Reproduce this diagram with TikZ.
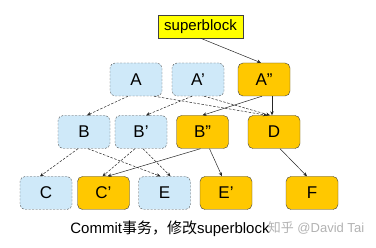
\documentclass[tikz,border=0pt]{standalone}
\usepackage{fontspec}
\setmainfont{Liberation Sans}
\newfontfamily\cjk{Noto Sans CJK SC}
\usetikzlibrary{arrows.meta}
\definecolor{lblue}{HTML}{CFE9F9}
\definecolor{gold}{HTML}{FFC800}
\definecolor{sbyel}{HTML}{FFFF00}
\definecolor{bordergray}{HTML}{555555}
\begin{document}
\begin{tikzpicture}[x=1pt,y=-1pt,
  oldbox/.style={draw=bordergray,dash pattern=on 2pt off 1.5pt,fill=lblue,rounded corners=5pt,minimum width=52pt,minimum height=33pt,inner sep=0pt,font=\fontsize{17}{19}\selectfont},
  newbox/.style={draw=black!75,fill=gold,rounded corners=5pt,minimum width=52pt,minimum height=33pt,inner sep=0pt,font=\fontsize{17}{19}\selectfont},
  sbbox/.style={draw=black!75,fill=sbyel,minimum width=85pt,minimum height=23pt,inner sep=0pt,font=\fontsize{15}{17}\selectfont},
  solidedge/.style={draw=black!85,-{Stealth[length=4pt,width=3.5pt]},line width=0.5pt},
  dashedge/.style={draw=black!85,dash pattern=on 2.5pt off 1.5pt,-{Stealth[length=4pt,width=3.5pt]},line width=0.5pt}]
\useasboundingbox (0,0) rectangle (376,248);
\node[sbbox] (sb) at (200.5,26.5) {superblock};
\node[oldbox] (A) at (136,79.5) {A};
\node[oldbox] (A1) at (198,79.5) {A'};
\node[newbox] (A2) at (264,79.5) {A''};
\node[oldbox] (B) at (84,132) {B};
\node[oldbox] (B1) at (141,132) {B'};
\node[newbox] (B2) at (202.5,132) {B''};
\node[newbox] (D) at (274,132) {D};
\node[oldbox] (C) at (46,193) {C};
\node[newbox] (C1) at (103.5,193) {C'};
\node[oldbox] (E) at (164.5,193) {E};
\node[newbox] (E1) at (226,193) {E'};
\node[newbox] (F) at (312,193) {F};
\node[font=\fontsize{15}{17}\selectfont] (cap) at (170,229) {Commit{\cjk 事务，修改}superblock};
\node[font=\fontsize{13}{15}\selectfont,text=black!30] (wm) at (316,228) {{\cjk 知乎} @David Tai};
% solid connectors
\draw[solidedge] (sb.south) -- ([xshift=-3pt]A2.north);
\draw[solidedge] ([xshift=-2pt]A2.south) -- (B2.north);
\draw[solidedge] ([xshift=8pt]A2.south) -- ([xshift=-2pt]D.north);
\draw[solidedge] ([xshift=-2pt]B2.south) -- ([xshift=4pt]C1.north);
\draw[solidedge] ([xshift=7pt]B2.south) -- ([xshift=-4pt]E1.north);
\draw[solidedge] ([xshift=6pt]D.south) -- ([xshift=-5pt]F.north);
% dashed connectors
\draw[dashedge] ([xshift=-8pt]A.south) -- ([xshift=3pt]B.north);
\draw[dashedge] ([xshift=18pt]A.south) -- ([xshift=-7pt]D.north);
\draw[dashedge] ([xshift=-6pt]A1.south) -- ([xshift=5pt]B1.north);
\draw[dashedge] ([xshift=6pt]A1.south) -- ([xshift=-4pt]D.north);
\draw[dashedge] ([xshift=-6pt]B.south) -- ([xshift=-6pt]C.north);
\draw[dashedge] ([xshift=4pt]B.south) -- ([xshift=-4pt]E.north);
\draw[dashedge] ([xshift=-6pt]B1.south) -- ([xshift=-1pt]C1.north);
\draw[dashedge] ([xshift=2pt]B1.south) -- ([xshift=6pt]E.north);
\end{tikzpicture}
\end{document}
